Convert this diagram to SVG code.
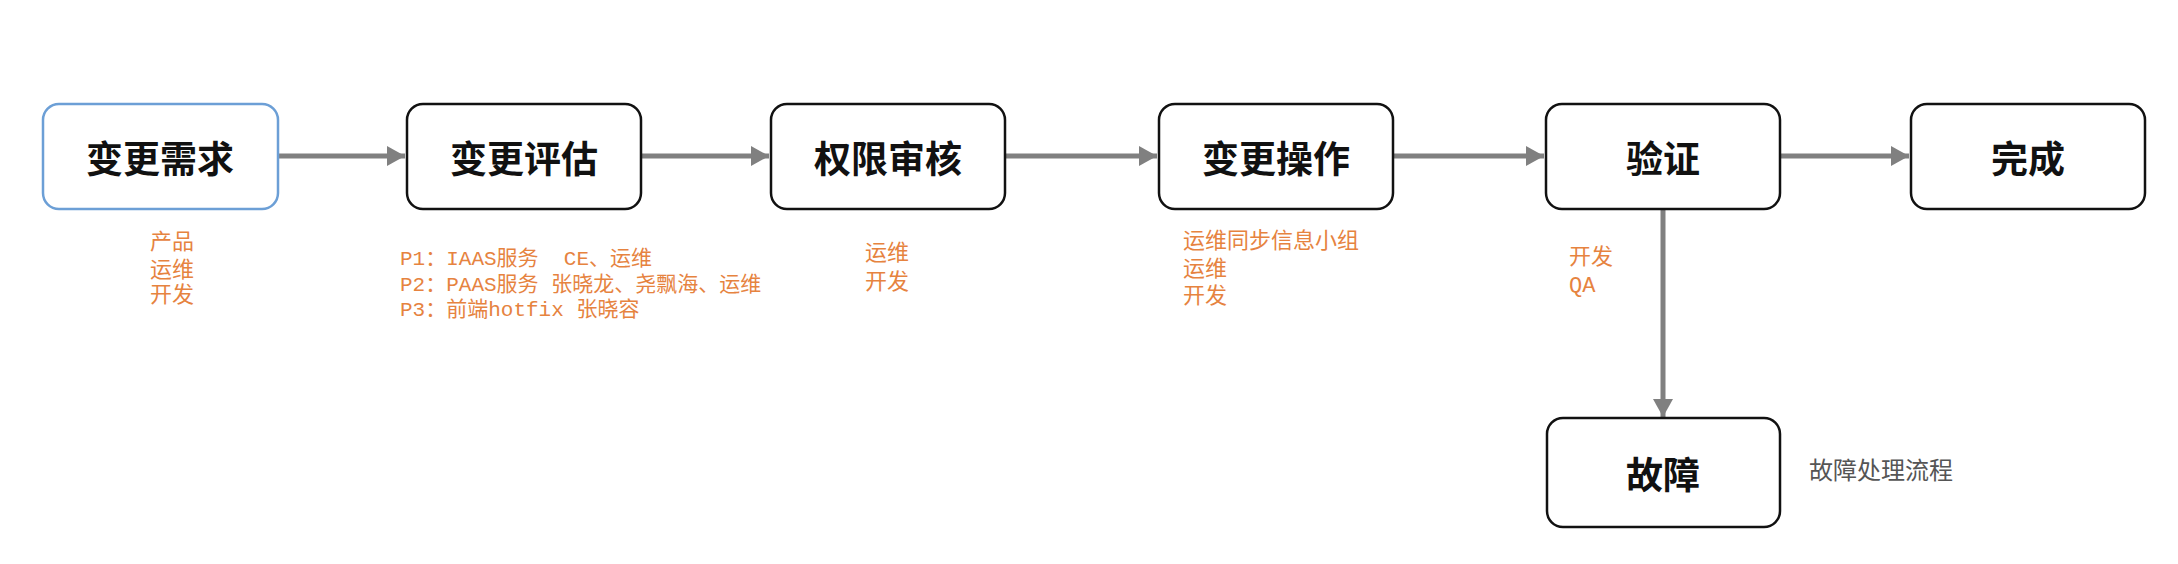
<svg xmlns="http://www.w3.org/2000/svg" width="2178" height="564" viewBox="0 0 2178 564">
<style>
.box{fill:#fff;stroke:#111;stroke-width:2.5}
.box.blue{stroke:#6c9fd6}
.lbl{font-family:"Noto Sans CJK SC","Noto Sans",sans-serif;font-size:37px;font-weight:bold;fill:#111;text-anchor:middle;dominant-baseline:central}
.note{font-family:"Liberation Mono","Noto Sans CJK SC",monospace;font-size:22px;fill:#e6833f}
.note.p{font-size:21px}
.gray{font-family:"Noto Sans CJK SC","Noto Sans",sans-serif;font-size:24px;fill:#555}
.conn{stroke:#808080;stroke-width:5;fill:none}
</style>
<defs>
<marker id="arr" markerUnits="userSpaceOnUse" markerWidth="18" markerHeight="20" refX="18" refY="10" orient="auto">
<path d="M0,0 L18,10 L0,20 Z" fill="#808080"/>
</marker>
</defs>
<rect width="2178" height="564" fill="#fff"/>
<g id="connectors">
<path class="conn" d="M278,156 L405,156" marker-end="url(#arr)"/>
<path class="conn" d="M641,156 L769,156" marker-end="url(#arr)"/>
<path class="conn" d="M1005,156 L1157,156" marker-end="url(#arr)"/>
<path class="conn" d="M1393,156 L1544,156" marker-end="url(#arr)"/>
<path class="conn" d="M1780,156 L1909,156" marker-end="url(#arr)"/>
<path class="conn" d="M1663,209 L1663,417" marker-end="url(#arr)"/>
</g>
<g id="node-req">
<rect class="box blue" x="43" y="104" width="235" height="105" rx="16"/>
<text class="lbl" x="160" y="157">变更需求</text>
</g>
<g id="node-eval">
<rect class="box" x="407" y="104" width="234" height="105" rx="16"/>
<text class="lbl" x="524" y="157">变更评估</text>
</g>
<g id="node-auth">
<rect class="box" x="771" y="104" width="234" height="105" rx="16"/>
<text class="lbl" x="888" y="157">权限审核</text>
</g>
<g id="node-op">
<rect class="box" x="1159" y="104" width="234" height="105" rx="16"/>
<text class="lbl" x="1276" y="157">变更操作</text>
</g>
<g id="node-verify">
<rect class="box" x="1546" y="104" width="234" height="105" rx="16"/>
<text class="lbl" x="1663" y="157">验证</text>
</g>
<g id="node-done">
<rect class="box" x="1911" y="104" width="234" height="105" rx="16"/>
<text class="lbl" x="2028" y="157">完成</text>
</g>
<g id="node-fault">
<rect class="box" x="1547" y="418" width="233" height="109" rx="16"/>
<text class="lbl" x="1663" y="473">故障</text>
</g>
<g id="notes">
<text class="note" x="150" y="249">产品</text>
<text class="note" x="150" y="277">运维</text>
<text class="note" x="150" y="302">开发</text>
<text class="note p" x="400" y="265" xml:space="preserve">P1：IAAS服务  CE、运维</text>
<text class="note p" x="400" y="291">P2：PAAS服务 张晓龙、尧飘海、运维</text>
<text class="note p" x="400" y="316">P3：前端hotfix 张晓容</text>
<text class="note" x="865" y="260">运维</text>
<text class="note" x="865" y="289">开发</text>
<text class="note" x="1183" y="248">运维同步信息小组</text>
<text class="note" x="1183" y="276">运维</text>
<text class="note" x="1183" y="303">开发</text>
<text class="note" x="1569" y="264">开发</text>
<text class="note" x="1569" y="292">QA</text>
<text class="gray" x="1809" y="479">故障处理流程</text>
</g>
</svg>
